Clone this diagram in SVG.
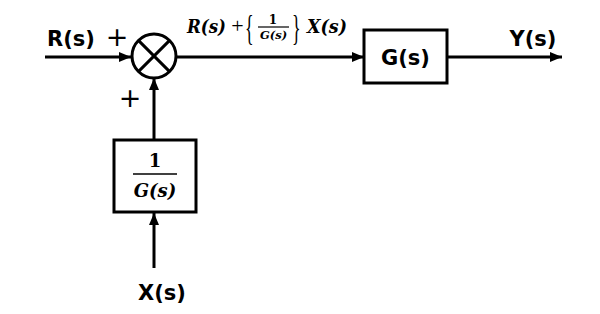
<svg xmlns="http://www.w3.org/2000/svg" width="600" height="314" viewBox="0 0 600 314">
<style>
.ln{stroke:#000;stroke-width:3;fill:none}
.bx{stroke:#000;stroke-width:3;fill:#fff}
.lb{font-family:"DejaVu Sans",sans-serif;font-weight:bold;font-size:21px;fill:#000}
.mt{font-family:"DejaVu Serif",serif;font-weight:bold;font-style:italic;fill:#000}
.up{font-family:"DejaVu Serif",serif;font-weight:bold;fill:#000}
.br{font-family:"Liberation Serif",serif;fill:#000}
.pl{font-family:"DejaVu Sans",sans-serif;font-size:27px;fill:#000}
</style>
<defs>
<marker id="ah" markerWidth="12" markerHeight="10" refX="12" refY="5" orient="auto" markerUnits="userSpaceOnUse">
<path d="M0,0 L12,5 L0,10 z" fill="#000"/>
</marker>
</defs>
<rect width="600" height="314" fill="#fff"/>
<g id="connectors">
<line class="ln" x1="45" y1="57" x2="131" y2="57" marker-end="url(#ah)"/>
<line class="ln" x1="176" y1="57" x2="364" y2="57" marker-end="url(#ah)"/>
<line class="ln" x1="447" y1="57" x2="562" y2="57" marker-end="url(#ah)"/>
<line class="ln" x1="154" y1="140" x2="154" y2="78" marker-end="url(#ah)"/>
<line class="ln" x1="154" y1="268" x2="154" y2="213" marker-end="url(#ah)"/>
</g>
<g id="sum">
<circle class="bx" cx="154" cy="56" r="22"/>
<line class="ln" x1="138.4" y1="40.4" x2="169.6" y2="71.6"/>
<line class="ln" x1="169.6" y1="40.4" x2="138.4" y2="71.6"/>
<text class="pl" x="117" y="46" text-anchor="middle">+</text>
<text class="pl" x="130" y="107" text-anchor="middle">+</text>
</g>
<g id="G">
<rect class="bx" x="364" y="30" width="83" height="53"/>
<text class="lb" x="405.5" y="65" text-anchor="middle">G(s)</text>
</g>
<g id="invG">
<rect class="bx" x="114" y="140" width="82" height="72"/>
<text class="up" x="155" y="167" font-size="18" text-anchor="middle">1</text>
<line x1="133" y1="174" x2="177" y2="174" stroke="#000" stroke-width="1.5"/>
<text class="mt" x="155" y="197" font-size="18" text-anchor="middle">G(s)</text>
</g>
<g id="labels">
<text class="lb" x="47" y="46">R(s)</text>
<text class="lb" x="533" y="46" text-anchor="middle">Y(s)</text>
<text class="lb" x="162" y="300" text-anchor="middle">X(s)</text>
<text class="mt" x="187" y="33" font-size="19" textLength="39" lengthAdjust="spacingAndGlyphs">R(s)</text>
<text class="br" x="237.5" y="33" font-size="22" text-anchor="middle">+</text>
<text class="br" x="0" y="0" font-size="36" transform="translate(245,40) scale(0.5,1)">{</text>
<text class="up" x="273" y="24" font-size="12" text-anchor="middle">1</text>
<line x1="258" y1="27" x2="289" y2="27" stroke="#000" stroke-width="1.2"/>
<text class="mt" x="273.5" y="39" font-size="11.5" text-anchor="middle">G(s)</text>
<text class="br" x="0" y="0" font-size="36" transform="translate(292,40) scale(0.5,1)">}</text>
<text class="mt" x="307" y="33" font-size="19" textLength="40" lengthAdjust="spacingAndGlyphs">X(s)</text>
</g>
</svg>
